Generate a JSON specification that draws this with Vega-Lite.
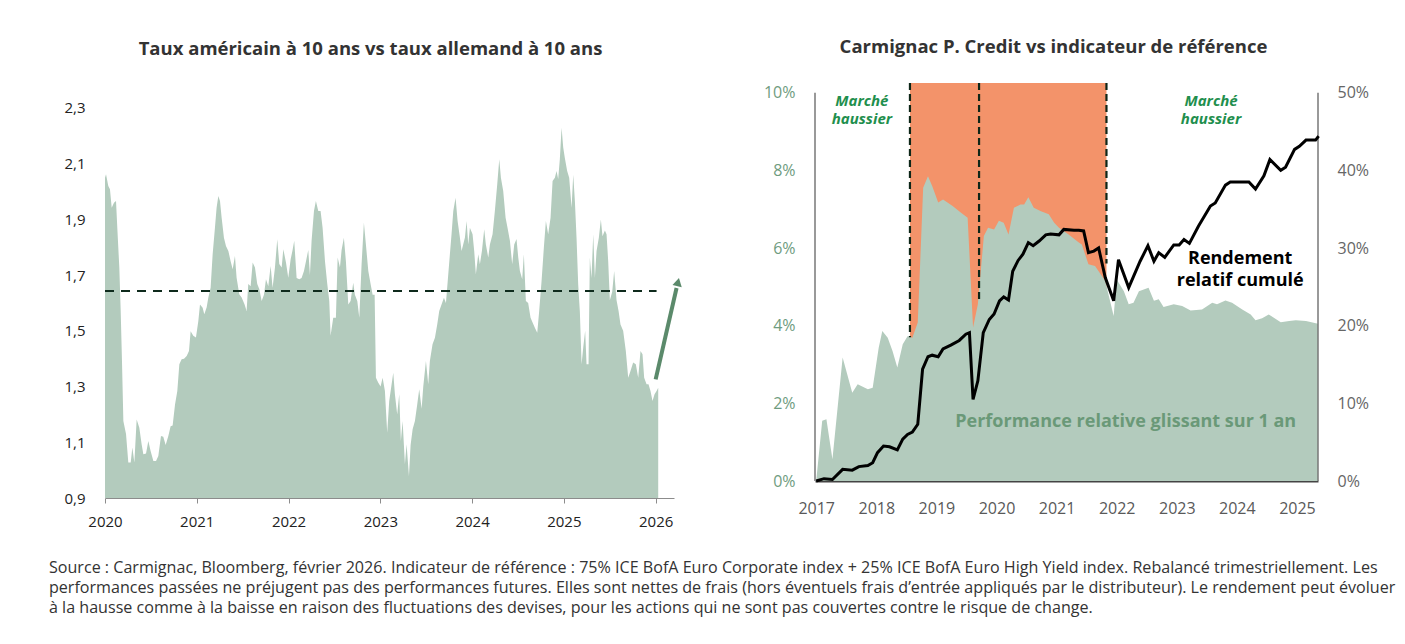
{
  "$schema": "https://vega.github.io/schema/vega-lite/v6.json",
  "padding": {"left": 48, "top": 38, "right": 10, "bottom": 10},
  "background": "white",
  "spacing": 81,
  "config": {
    "view": {"stroke": null},
    "font": "Open Sans",
    "title": {"font": "Open Sans", "fontSize": 18.5, "fontWeight": "bold", "color": "#333333"}
  },
  "title": {
    "text": [
      "Source : Carmignac, Bloomberg, février 2026. Indicateur de référence : 75% ICE BofA Euro Corporate index +  25% ICE BofA Euro High Yield index. Rebalancé trimestriellement. Les",
      "performances passées ne préjugent pas des performances futures. Elles sont nettes de frais (hors éventuels frais d’entrée appliqués par le distributeur). Le rendement peut évoluer",
      "à la hausse comme à la baisse en raison des fluctuations des devises, pour les actions qui ne sont pas couvertes contre le risque de change."
    ],
    "orient": "bottom",
    "anchor": "start",
    "font": "Open Sans",
    "fontSize": 16.1,
    "fontWeight": "normal",
    "color": "#333333",
    "lineHeight": 20,
    "offset": 31,
    "dx": -15
  },
  "datasets": {
    "spread": [
      {"t":2020.0,"v":2.05},{"t":2020.011,"v":2.062},{"t":2020.036,"v":2.02},{"t":2020.054,"v":2.008},{"t":2020.073,"v":1.942},{"t":2020.098,"v":1.96},{"t":2020.12,"v":1.966},{"t":2020.134,"v":1.87},{"t":2020.156,"v":1.727},{"t":2020.171,"v":1.571},{"t":2020.185,"v":1.392},{"t":2020.2,"v":1.176},{"t":2020.229,"v":1.13},{"t":2020.254,"v":1.027},{"t":2020.28,"v":1.027},{"t":2020.298,"v":1.081},{"t":2020.32,"v":1.027},{"t":2020.345,"v":1.182},{"t":2020.374,"v":1.152},{"t":2020.399,"v":1.093},{"t":2020.418,"v":1.057},{"t":2020.447,"v":1.06},{"t":2020.472,"v":1.105},{"t":2020.497,"v":1.069},{"t":2020.527,"v":1.033},{"t":2020.556,"v":1.033},{"t":2020.581,"v":1.051},{"t":2020.61,"v":1.123},{"t":2020.635,"v":1.12},{"t":2020.661,"v":1.09},{"t":2020.69,"v":1.123},{"t":2020.715,"v":1.158},{"t":2020.737,"v":1.16},{"t":2020.763,"v":1.236},{"t":2020.788,"v":1.284},{"t":2020.81,"v":1.38},{"t":2020.835,"v":1.398},{"t":2020.861,"v":1.4},{"t":2020.89,"v":1.41},{"t":2020.915,"v":1.428},{"t":2020.933,"v":1.499},{"t":2020.962,"v":1.482},{"t":2020.991,"v":1.476},
      {"t":2021.017,"v":1.535},{"t":2021.035,"v":1.595},{"t":2021.064,"v":1.583},{"t":2021.082,"v":1.56},{"t":2021.108,"v":1.585},{"t":2021.126,"v":1.62},{"t":2021.151,"v":1.655},{"t":2021.173,"v":1.775},{"t":2021.198,"v":1.87},{"t":2021.216,"v":1.942},{"t":2021.235,"v":1.984},{"t":2021.253,"v":1.966},{"t":2021.271,"v":1.906},{"t":2021.296,"v":1.834},{"t":2021.318,"v":1.805},{"t":2021.344,"v":1.787},{"t":2021.369,"v":1.75},{"t":2021.391,"v":1.721},{"t":2021.416,"v":1.769},{"t":2021.434,"v":1.691},{"t":2021.463,"v":1.631},{"t":2021.489,"v":1.62},{"t":2021.521,"v":1.595},{"t":2021.543,"v":1.571},{"t":2021.561,"v":1.668},{"t":2021.587,"v":1.66},{"t":2021.609,"v":1.745},{"t":2021.634,"v":1.727},{"t":2021.659,"v":1.668},{"t":2021.681,"v":1.65},{"t":2021.707,"v":1.607},{"t":2021.732,"v":1.63},{"t":2021.754,"v":1.685},{"t":2021.779,"v":1.66},{"t":2021.805,"v":1.733},{"t":2021.826,"v":1.655},{"t":2021.852,"v":1.727},{"t":2021.877,"v":1.829},{"t":2021.899,"v":1.74},{"t":2021.925,"v":1.727},{"t":2021.943,"v":1.793},{"t":2021.972,"v":1.745},{"t":2021.997,"v":1.691},
      {"t":2022.023,"v":1.757},{"t":2022.044,"v":1.79},{"t":2022.062,"v":1.823},{"t":2022.088,"v":1.69},{"t":2022.117,"v":1.685},{"t":2022.142,"v":1.69},{"t":2022.168,"v":1.715},{"t":2022.19,"v":1.75},{"t":2022.215,"v":1.79},{"t":2022.233,"v":1.7},{"t":2022.251,"v":1.823},{"t":2022.277,"v":1.93},{"t":2022.298,"v":1.966},{"t":2022.324,"v":1.93},{"t":2022.349,"v":1.93},{"t":2022.371,"v":1.87},{"t":2022.397,"v":1.75},{"t":2022.422,"v":1.668},{"t":2022.444,"v":1.607},{"t":2022.458,"v":1.482},{"t":2022.487,"v":1.547},{"t":2022.516,"v":1.547},{"t":2022.535,"v":1.763},{"t":2022.56,"v":1.727},{"t":2022.578,"v":1.79},{"t":2022.603,"v":1.834},{"t":2022.625,"v":1.75},{"t":2022.651,"v":1.595},{"t":2022.676,"v":1.607},{"t":2022.705,"v":1.673},{"t":2022.723,"v":1.63},{"t":2022.749,"v":1.607},{"t":2022.771,"v":1.547},{"t":2022.796,"v":1.74},{"t":2022.821,"v":1.888},{"t":2022.843,"v":1.81},{"t":2022.869,"v":1.715},{"t":2022.894,"v":1.668},{"t":2022.916,"v":1.63},{"t":2022.938,"v":1.63},{"t":2022.952,"v":1.332},{"t":2022.978,"v":1.314},
      {"t":2023.003,"v":1.3},{"t":2023.025,"v":1.332},{"t":2023.05,"v":1.284},{"t":2023.075,"v":1.134},{"t":2023.097,"v":1.248},{"t":2023.123,"v":1.308},{"t":2023.141,"v":1.35},{"t":2023.159,"v":1.272},{"t":2023.184,"v":1.2},{"t":2023.206,"v":1.272},{"t":2023.224,"v":1.105},{"t":2023.243,"v":1.176},{"t":2023.268,"v":1.021},{"t":2023.286,"v":1.093},{"t":2023.312,"v":0.979},{"t":2023.33,"v":1.09},{"t":2023.352,"v":1.147},{"t":2023.377,"v":1.176},{"t":2023.402,"v":1.236},{"t":2023.424,"v":1.29},{"t":2023.45,"v":1.22},{"t":2023.468,"v":1.3},{"t":2023.497,"v":1.392},{"t":2023.522,"v":1.308},{"t":2023.54,"v":1.392},{"t":2023.569,"v":1.452},{"t":2023.595,"v":1.475},{"t":2023.62,"v":1.523},{"t":2023.642,"v":1.571},{"t":2023.667,"v":1.595},{"t":2023.693,"v":1.619},{"t":2023.715,"v":1.6},{"t":2023.736,"v":1.685},{"t":2023.758,"v":1.775},{"t":2023.776,"v":1.847},{"t":2023.795,"v":1.93},{"t":2023.82,"v":1.978},{"t":2023.842,"v":1.894},{"t":2023.867,"v":1.835},{"t":2023.885,"v":1.787},{"t":2023.903,"v":1.81},{"t":2023.922,"v":1.835},{"t":2023.94,"v":1.894},{"t":2023.958,"v":1.81},{"t":2023.976,"v":1.87},
      {"t":2024.005,"v":1.847},{"t":2024.023,"v":1.787},{"t":2024.041,"v":1.703},{"t":2024.067,"v":1.775},{"t":2024.085,"v":1.739},{"t":2024.107,"v":1.787},{"t":2024.132,"v":1.865},{"t":2024.15,"v":1.81},{"t":2024.176,"v":1.763},{"t":2024.194,"v":1.81},{"t":2024.223,"v":1.847},{"t":2024.248,"v":1.93},{"t":2024.274,"v":2.026},{"t":2024.296,"v":2.116},{"t":2024.314,"v":2.05},{"t":2024.339,"v":2.002},{"t":2024.365,"v":1.906},{"t":2024.386,"v":1.87},{"t":2024.412,"v":1.823},{"t":2024.437,"v":1.739},{"t":2024.459,"v":1.81},{"t":2024.484,"v":1.83},{"t":2024.503,"v":1.763},{"t":2024.521,"v":1.715},{"t":2024.546,"v":1.685},{"t":2024.564,"v":1.775},{"t":2024.586,"v":1.607},{"t":2024.611,"v":1.6},{"t":2024.637,"v":1.547},{"t":2024.659,"v":1.53},{"t":2024.684,"v":1.511},{"t":2024.71,"v":1.493},{"t":2024.731,"v":1.571},{"t":2024.757,"v":1.679},{"t":2024.782,"v":1.799},{"t":2024.804,"v":1.894},{"t":2024.829,"v":1.847},{"t":2024.855,"v":1.906},{"t":2024.877,"v":2.038},{"t":2024.902,"v":2.05},{"t":2024.92,"v":2.074},{"t":2024.938,"v":2.045},{"t":2024.956,"v":2.116},{"t":2024.975,"v":2.229},{"t":2024.993,"v":2.158},
      {"t":2025.011,"v":2.12},{"t":2025.036,"v":2.074},{"t":2025.058,"v":2.05},{"t":2025.084,"v":1.942},{"t":2025.102,"v":2.06},{"t":2025.12,"v":1.966},{"t":2025.138,"v":1.834},{"t":2025.156,"v":1.667},{"t":2025.174,"v":1.57},{"t":2025.193,"v":1.38},{"t":2025.211,"v":1.44},{"t":2025.232,"v":1.5},{"t":2025.247,"v":1.38},{"t":2025.269,"v":1.38},{"t":2025.283,"v":1.763},{"t":2025.301,"v":1.69},{"t":2025.32,"v":1.847},{"t":2025.338,"v":1.69},{"t":2025.356,"v":1.787},{"t":2025.381,"v":1.834},{"t":2025.403,"v":1.9},{"t":2025.421,"v":1.84},{"t":2025.447,"v":1.86},{"t":2025.465,"v":1.847},{"t":2025.483,"v":1.75},{"t":2025.501,"v":1.61},{"t":2025.527,"v":1.64},{"t":2025.548,"v":1.715},{"t":2025.574,"v":1.61},{"t":2025.596,"v":1.571},{"t":2025.617,"v":1.523},{"t":2025.646,"v":1.5},{"t":2025.675,"v":1.428},{"t":2025.701,"v":1.332},{"t":2025.726,"v":1.356},{"t":2025.755,"v":1.386},{"t":2025.784,"v":1.38},{"t":2025.81,"v":1.332},{"t":2025.835,"v":1.428},{"t":2025.857,"v":1.416},{"t":2025.875,"v":1.332},{"t":2025.901,"v":1.308},{"t":2025.922,"v":1.308},{"t":2025.944,"v":1.284},{"t":2025.966,"v":1.248},{"t":2025.988,"v":1.272},{"t":2026.01,"v":1.284},{"t":2026.028,"v":1.296}
    ],
    "perf": [
      {"t":2016.98,"v":0},{"t":2017.0,"v":0},{"t":2017.1,"v":1.55},{"t":2017.17,"v":1.59},{"t":2017.27,"v":0.56},{"t":2017.44,"v":3.18},{"t":2017.6,"v":2.27},{"t":2017.69,"v":2.49},{"t":2017.86,"v":2.36},{"t":2017.94,"v":2.4},{"t":2018.04,"v":3.43},{"t":2018.1,"v":3.86},{"t":2018.19,"v":3.69},{"t":2018.27,"v":3.35},{"t":2018.35,"v":2.92},{"t":2018.44,"v":3.52},{"t":2018.52,"v":3.73},{"t":2018.6,"v":3.69},{"t":2018.69,"v":4.08},{"t":2018.78,"v":7.55},{"t":2018.86,"v":7.85},{"t":2018.93,"v":7.6},{"t":2019.03,"v":7.17},{"t":2019.11,"v":7.25},{"t":2019.27,"v":7.08},{"t":2019.41,"v":6.91},{"t":2019.52,"v":6.78},{"t":2019.61,"v":3.95},{"t":2019.69,"v":4.55},{"t":2019.79,"v":6.31},{"t":2019.86,"v":6.52},{"t":2019.96,"v":6.48},{"t":2020.04,"v":6.7},{"t":2020.12,"v":6.65},{"t":2020.2,"v":6.35},{"t":2020.29,"v":7.04},{"t":2020.4,"v":7.12},{"t":2020.46,"v":7.12},{"t":2020.53,"v":7.31},{"t":2020.62,"v":7.04},{"t":2020.74,"v":6.95},{"t":2020.87,"v":6.87},{"t":2020.96,"v":6.65},{"t":2021.04,"v":6.52},{"t":2021.2,"v":6.35},{"t":2021.37,"v":6.14},{"t":2021.42,"v":6.09},{"t":2021.53,"v":5.58},{"t":2021.64,"v":5.54},{"t":2021.81,"v":5.15},{"t":2021.95,"v":4.25},{"t":2022.0,"v":5.19},{"t":2022.12,"v":4.89},{"t":2022.2,"v":4.55},{"t":2022.28,"v":4.59},{"t":2022.37,"v":4.89},{"t":2022.53,"v":4.98},{"t":2022.62,"v":4.64},{"t":2022.7,"v":4.68},{"t":2022.78,"v":4.48},{"t":2022.95,"v":4.55},{"t":2023.09,"v":4.51},{"t":2023.23,"v":4.39},{"t":2023.42,"v":4.42},{"t":2023.59,"v":4.59},{"t":2023.67,"v":4.55},{"t":2023.81,"v":4.65},{"t":2023.92,"v":4.59},{"t":2024.09,"v":4.42},{"t":2024.23,"v":4.29},{"t":2024.31,"v":4.14},{"t":2024.42,"v":4.19},{"t":2024.53,"v":4.29},{"t":2024.73,"v":4.09},{"t":2024.87,"v":4.12},{"t":2024.98,"v":4.14},{"t":2025.15,"v":4.12},{"t":2025.35,"v":4.05}
    ],
    "cum": [
      {"t":2017.0,"v":0},{"t":2017.13,"v":0.3},{"t":2017.27,"v":0.2},{"t":2017.44,"v":1.5},{"t":2017.6,"v":1.4},{"t":2017.71,"v":1.85},{"t":2017.86,"v":2.0},{"t":2017.94,"v":2.36},{"t":2018.02,"v":3.65},{"t":2018.12,"v":4.5},{"t":2018.22,"v":4.4},{"t":2018.35,"v":4.0},{"t":2018.44,"v":5.4},{"t":2018.52,"v":6.0},{"t":2018.6,"v":6.3},{"t":2018.69,"v":7.3},{"t":2018.77,"v":14.4},{"t":2018.86,"v":16.0},{"t":2018.93,"v":16.2},{"t":2019.03,"v":16.0},{"t":2019.11,"v":17.0},{"t":2019.24,"v":17.5},{"t":2019.38,"v":18.1},{"t":2019.49,"v":18.9},{"t":2019.55,"v":19.1},{"t":2019.61,"v":10.5},{"t":2019.69,"v":12.9},{"t":2019.78,"v":19.1},{"t":2019.88,"v":20.8},{"t":2019.96,"v":21.5},{"t":2020.05,"v":23.2},{"t":2020.12,"v":23.7},{"t":2020.2,"v":23.3},{"t":2020.27,"v":27.0},{"t":2020.36,"v":28.4},{"t":2020.44,"v":29.2},{"t":2020.53,"v":30.7},{"t":2020.61,"v":30.3},{"t":2020.71,"v":30.9},{"t":2020.82,"v":31.7},{"t":2020.9,"v":31.8},{"t":2021.04,"v":31.7},{"t":2021.12,"v":32.4},{"t":2021.29,"v":32.3},{"t":2021.37,"v":32.3},{"t":2021.45,"v":32.2},{"t":2021.53,"v":29.4},{"t":2021.62,"v":29.6},{"t":2021.7,"v":30.0},{"t":2021.81,"v":26.2},{"t":2021.95,"v":23.2},{"t":2022.03,"v":28.5},{"t":2022.2,"v":24.9},{"t":2022.39,"v":28.3},{"t":2022.52,"v":30.3},{"t":2022.62,"v":28.3},{"t":2022.7,"v":29.4},{"t":2022.8,"v":28.8},{"t":2022.95,"v":30.4},{"t":2023.04,"v":30.4},{"t":2023.12,"v":31.1},{"t":2023.21,"v":30.6},{"t":2023.36,"v":32.8},{"t":2023.56,"v":35.4},{"t":2023.64,"v":35.8},{"t":2023.81,"v":38.1},{"t":2023.89,"v":38.5},{"t":2024.06,"v":38.5},{"t":2024.2,"v":38.5},{"t":2024.31,"v":37.6},{"t":2024.45,"v":39.3},{"t":2024.55,"v":41.4},{"t":2024.73,"v":40.0},{"t":2024.81,"v":40.4},{"t":2024.96,"v":42.7},{"t":2025.04,"v":43.1},{"t":2025.15,"v":43.9},{"t":2025.31,"v":43.9},{"t":2025.36,"v":44.4}
    ]
  },
  "hconcat": [
    {
      "width": 569,
      "height": 415,
      "title": {"text": "Taux américain à 10 ans vs taux allemand à 10 ans", "offset": 25, "dx": -19},
      "encoding": {
        "x": {"field": "t", "type": "quantitative", "scale": {"domain": [2020, 2026.2], "nice": false, "zero": false},
          "axis": {"title": null, "values": [2020, 2021, 2022, 2023, 2024, 2025, 2026], "format": "d", "grid": false, "domainColor": "#8c8c8c", "tickColor": "#8c8c8c", "tickSize": 5, "labelFontSize": 15, "labelColor": "#222222", "labelPadding": 11, "labelFlush": false, "labelFont": "Open Sans"}},
        "y": {"field": "v", "type": "quantitative", "scale": {"domain": [0.9, 2.3897], "nice": false, "zero": false},
          "axis": {"title": null, "values": [0.9, 1.1, 1.3, 1.5, 1.7, 1.9, 2.1, 2.3], "labelExpr": "replace(format(datum.value, '.1f'), '.', ',')", "grid": false, "domain": false, "ticks": false, "labelFontSize": 15, "labelColor": "#222222", "labelPadding": 20, "labelFont": "Open Sans"}}
      },
      "layer": [
        {
          "data": {"name": "spread"},
          "mark": {"type": "area", "color": "#b3cbbd", "interpolate": "linear"},
          "encoding": {"y2": {"datum": 0.9}}
        },
        {
          "data": {"values": [{"t": 2020, "t1": 2026.01, "v": 1.643}]},
          "mark": {"type": "rule", "color": "#0e2a1c", "strokeWidth": 2, "strokeDash": [9, 7]},
          "encoding": {"x2": {"field": "t1"}}
        },
        {
          "data": {"values": [{"t": 2026.0, "v": 1.326, "t1": 2026.228, "v1": 1.654}]},
          "mark": {"type": "rule", "color": "#5b8a6b", "strokeWidth": 4},
          "encoding": {"x2": {"field": "t1"}, "y2": {"field": "v1"}}
        },
        {
          "data": {"values": [{"t": 2026.244, "v": 1.675}]},
          "mark": {"type": "point", "shape": "triangle-up", "filled": true, "size": 90, "angle": 13, "color": "#5b8a6b", "opacity": 1}
        }
      ]
    },
    {
      "width": 503,
      "height": 398,
      "title": {"text": "Carmignac P. Credit vs indicateur de référence", "offset": 25, "dx": -13},
      "resolve": {"scale": {"y": "independent"}},
      "encoding": {
        "x": {"field": "t", "type": "quantitative", "scale": {"domain": [2016.98, 2025.35], "nice": false, "zero": false},
          "axis": {"title": null, "values": [2017, 2018, 2019, 2020, 2021, 2022, 2023, 2024, 2025], "format": "d", "grid": false, "ticks": false, "domainColor": "#444444", "domainWidth": 2, "labelFontSize": 16, "labelColor": "#595959", "labelPadding": 19, "labelFlush": false, "labelFont": "Open Sans"}}
      },
      "layer": [
        {
          "encoding": {
            "y": {"field": "v", "type": "quantitative", "scale": {"domain": [0, 10.25], "nice": false, "zero": false},
              "axis": {"orient": "left", "title": null, "values": [0, 2, 4, 6, 8, 10], "labelExpr": "datum.value + '%'", "grid": false, "domain": false, "ticks": false, "labelFontSize": 16, "labelColor": "#6f9c80", "labelPadding": 20, "labelFont": "Open Sans"}}
          },
          "layer": [
            {
              "data": {"values": [{"t": 2018.56, "v": 10.25}, {"t": 2021.83, "v": 10.25}]},
              "mark": {"type": "area", "color": "#f3936a"},
              "encoding": {"y2": {"datum": 0}}
            },
            {
              "data": {"name": "perf"},
              "mark": {"type": "area", "color": "#b3cbbd"},
              "encoding": {"y2": {"datum": 0}}
            },
            {
              "data": {"values": [{"t": 2016.98, "v": 0, "v1": 10}, {"t": 2025.35, "v": 0, "v1": 10}]},
              "mark": {"type": "rule", "color": "#777777", "strokeWidth": 1.5},
              "encoding": {"y2": {"field": "v1"}}
            },
            {
              "data": {"values": [{"t": 2018.56, "v": 10.25, "v1": 3.7}, {"t": 2019.71, "v": 10.25, "v1": 4.62}, {"t": 2021.83, "v": 10.25, "v1": 5.6}]},
              "mark": {"type": "rule", "color": "#0d2618", "strokeWidth": 2.2, "strokeDash": [7, 4]},
              "encoding": {"y2": {"field": "v1"}}
            },
            {
              "data": {"values": [{"t": 2017.76, "v": 9.79, "label": "Marché\nhaussier"}, {"t": 2023.57, "v": 9.79, "label": "Marché\nhaussier"}]},
              "mark": {"type": "text", "lineBreak": "\n", "fontSize": 15, "fontWeight": "bold", "fontStyle": "italic", "color": "#1f8f4e", "lineHeight": 18, "align": "center", "baseline": "middle", "font": "Open Sans"},
              "encoding": {"text": {"field": "label"}}
            },
            {
              "data": {"values": [{"t": 2024.055, "v": 5.71, "label": "Rendement\nrelatif cumulé"}]},
              "mark": {"type": "text", "lineBreak": "\n", "fontSize": 18, "fontWeight": "bold", "color": "#000000", "lineHeight": 22, "align": "center", "baseline": "middle", "font": "Open Sans"},
              "encoding": {"text": {"field": "label"}}
            },
            {
              "data": {"values": [{"t": 2022.15, "v": 1.53, "label": "Performance relative glissant sur 1 an"}]},
              "mark": {"type": "text", "fontSize": 18, "fontWeight": "bold", "color": "#6a9978", "align": "center", "baseline": "middle", "font": "Open Sans"},
              "encoding": {"text": {"field": "label"}}
            }
          ]
        },
        {
          "data": {"name": "cum"},
          "mark": {"type": "line", "color": "#000000", "strokeWidth": 3, "strokeJoin": "miter"},
          "encoding": {
            "y": {"field": "v", "type": "quantitative", "scale": {"domain": [0, 51.25], "nice": false, "zero": false},
              "axis": {"orient": "right", "title": null, "values": [0, 10, 20, 30, 40, 50], "labelExpr": "datum.value + '%'", "grid": false, "domain": false, "ticks": false, "labelFontSize": 16, "labelColor": "#666666", "labelPadding": 19, "labelFont": "Open Sans"}}
          }
        }
      ]
    }
  ]
}
